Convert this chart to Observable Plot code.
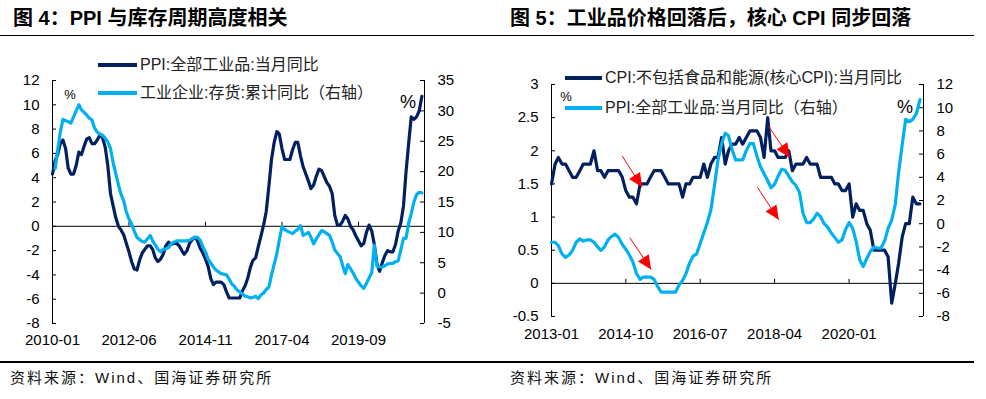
<!DOCTYPE html>
<html><head><meta charset="utf-8">
<script src="https://cdn.jsdelivr.net/npm/d3@7"></script>
<script src="https://cdn.jsdelivr.net/npm/@observablehq/plot@0.6"></script>
<style>
body{margin:0;background:#fff;}
#root{position:relative;width:986px;height:399px;overflow:hidden;font-family:"Liberation Sans","Noto Sans CJK SC",sans-serif;color:#000;}
.abs{position:absolute;white-space:nowrap;}
</style></head><body><div id="root"></div>
<script>
// ================= DATA =================
const titles = ["图 4：PPI 与库存周期高度相关", "图 5：工业品价格回落后，核心 CPI 同步回落"];
const sourceText = "资料来源：Wind、国海证券研究所";

// PPI:全部工业品:当月同比, monthly from 2010-01 to 2021-09 (%)
const ppiStart = "2010-01";
const ppiValues = [
  4.3, 5.4, 5.9, 6.8, 7.1, 6.4, 4.8, 4.3, 4.3, 5.0, 6.1, 5.9,
  6.6, 7.2, 7.3, 6.8, 6.8, 7.1, 7.5, 7.3, 6.5, 5.0, 2.7, 1.7,
  0.7, 0.0, -0.3, -0.7, -1.4, -2.1, -2.9, -3.5, -3.6, -2.8, -2.2, -1.9,
  -1.6, -1.6, -1.9, -2.6, -2.9, -2.7, -2.3, -1.6, -1.3, -1.5, -1.4, -1.4,
  -1.6, -2.0, -2.3, -2.0, -1.4, -1.1, -0.9, -1.2, -1.8, -2.2, -2.7, -3.3,
  -4.3, -4.8, -4.6, -4.6, -4.6, -4.8, -5.4, -5.9, -5.9, -5.9, -5.9, -5.9,
  -5.3, -4.9, -4.3, -3.4, -2.8, -2.6, -1.7, -0.8, 0.1, 1.2, 3.3, 5.5,
  6.9, 7.8, 7.6, 6.4, 5.5, 5.5, 5.5, 6.3, 6.9, 6.9, 5.8, 4.9,
  4.3, 3.7, 3.1, 3.4, 4.1, 4.7, 4.6, 4.1, 3.6, 3.3, 2.7, 0.9,
  0.1, 0.1, 0.4, 0.9, 0.6, 0.0, -0.3, -0.8, -1.2, -1.6, -1.4, -0.5,
  0.1, -0.4, -1.5, -3.1, -3.7, -3.0, -2.4, -2.0, -2.1, -2.1, -1.5, -0.4,
  0.3, 1.7, 4.4, 6.8, 9.0, 8.8, 9.0, 9.5, 10.7
];

// 工业企业:存货:累计同比 (right axis of 图4), months
const invMonths = [
  "2010-02","2010-03","2010-04","2010-05","2010-06","2010-07","2010-08","2010-09","2010-10","2010-11","2010-12",
  "2011-02","2011-03","2011-04","2011-05","2011-06","2011-07","2011-08","2011-09","2011-10","2011-11","2011-12",
  "2012-02","2012-03","2012-04","2012-05","2012-06","2012-07","2012-08","2012-09","2012-10","2012-11","2012-12",
  "2013-02","2013-03","2013-04","2013-05","2013-06","2013-07","2013-08","2013-09","2013-10","2013-11","2013-12",
  "2014-02","2014-03","2014-04","2014-05","2014-06","2014-07","2014-08","2014-09","2014-10","2014-11","2014-12",
  "2015-02","2015-03","2015-04","2015-05","2015-06","2015-07","2015-08","2015-09","2015-10","2015-11","2015-12",
  "2016-02","2016-03","2016-04","2016-05","2016-06","2016-07","2016-08","2016-09","2016-10","2016-11","2016-12",
  "2017-02","2017-03","2017-04","2017-05","2017-06","2017-07","2017-08","2017-09","2017-10","2017-11","2017-12",
  "2018-02","2018-03","2018-04","2018-05","2018-06","2018-07","2018-08","2018-09","2018-10","2018-11","2018-12",
  "2019-02","2019-03","2019-04","2019-05","2019-06","2019-07","2019-08","2019-09","2019-10","2019-11","2019-12",
  "2020-02","2020-03","2020-04","2020-05","2020-06","2020-07","2020-08","2020-09","2020-10","2020-11","2020-12",
  "2021-02","2021-03","2021-04","2021-05","2021-06","2021-07","2021-08","2021-09"
];
const invValues = [
  20.5, 23.5, 26.5, 28.6, 28.4, 28.2, 28.0, 29.0, 30.0, 31.0, 30.2,
  29.3, 28.8, 28.5, 27.2, 26.5, 26.2, 26.0, 25.5, 24.9, 23.8, 21.5,
  17.8, 16.3, 15.2, 13.4, 12.2, 11.4, 10.2, 9.2, 8.8, 8.5, 8.4,
  9.5, 8.6, 7.9, 7.2, 6.8, 7.2, 7.3, 7.5, 8.1, 8.4, 8.6,
  8.6, 8.6, 8.6, 8.7, 9.0, 9.2, 9.2, 8.7, 7.6, 6.8, 5.6,
  4.3, 3.8, 3.5, 3.2, 3.1, 3.0, 2.3, 1.5, 1.1, 0.5, 0.2,
  -0.5, -0.6, -0.8, -0.7, -0.5, -0.9, -0.3, 0.0, 0.6, 1.0, 3.0,
  6.5, 8.7, 10.9, 10.5, 10.2, 10.0, 9.8, 10.2, 10.5, 11.1, 9.5,
  10.0, 9.2, 8.1, 8.9, 9.6, 10.3, 10.1, 9.8, 9.5, 8.4, 7.1,
  6.0, 4.6, 3.2, 4.7, 4.0, 3.3, 2.4, 1.8, 1.2, 0.8, 1.6,
  3.4, 7.9, 4.4, 4.3, 4.3, 4.5, 4.8, 4.9, 4.9, 5.2, 5.3,
  9.0, 9.0, 11.5, 13.1, 15.0, 16.2, 16.6, 16.5
];

// CPI:不包括食品和能源(核心CPI):当月同比, monthly from 2013-01 to 2021-09 (%)
const coreStart = "2013-01";
const coreValues = [
  1.5, 1.8, 1.9, 1.8, 1.8, 1.7, 1.6, 1.6, 1.7, 1.8, 1.8, 1.8,
  2.0, 1.7, 1.7, 1.6, 1.7, 1.7, 1.7, 1.7, 1.6, 1.4, 1.3, 1.3,
  1.2, 1.5, 1.5, 1.5, 1.6, 1.7, 1.7, 1.7, 1.6, 1.5, 1.5, 1.5,
  1.5, 1.3, 1.5, 1.5, 1.6, 1.6, 1.6, 1.8, 1.6, 1.8, 1.9, 1.9,
  2.2, 1.8, 2.0, 2.1, 2.1, 2.2, 2.1, 2.2, 2.3, 2.3, 2.3, 2.2,
  1.9, 2.5, 2.0, 2.0, 1.9, 1.9, 1.9, 2.0, 1.7, 1.8, 1.8, 1.8,
  1.9, 1.8, 1.8, 1.8, 1.6, 1.6, 1.6, 1.6, 1.5, 1.5, 1.4, 1.4,
  1.5, 1.0, 1.2, 1.1, 1.1, 0.9, 0.8, 0.5, 0.5, 0.5, 0.5, 0.4,
  -0.3, 0.0, 0.3, 0.7, 0.9, 0.9, 1.3, 1.2, 1.2
];

// Red annotation arrows in 图5 (date, core-CPI axis units)
const arrowFrom = [["2014-09-01", 1.92], ["2018-02-07", 2.37], ["2014-11-04", 0.69], ["2017-11-04", 1.45]];
const arrowTo   = [["2015-02-18", 1.45], ["2018-08-10", 1.90], ["2015-05-07", 0.21], ["2018-05-07", 0.96]];

// Axes
const leftXTicks  = ["2010-01", "2012-06", "2014-11", "2017-04", "2019-09"];
const rightXTicks = ["2013-01", "2014-10", "2016-07", "2018-04", "2020-01"];
const leftXEnd = "2021-10", rightXEnd = "2021-10";
const fig4Y1Ticks = [-8, -6, -4, -2, 0, 2, 4, 6, 8, 10, 12];
const fig4Y2Ticks = [-5, 0, 5, 10, 15, 20, 25, 30, 35];
const fig5Y1Ticks = [-0.5, 0, 0.5, 1, 1.5, 2, 2.5, 3];
const fig5Y2Ticks = [-8, -6, -4, -2, 0, 2, 4, 6, 8, 10, 12];

const seriesNames4 = ["PPI:全部工业品:当月同比", "工业企业:存货:累计同比（右轴）"];
const seriesNames5 = ["CPI:不包括食品和能源(核心CPI):当月同比", "PPI:全部工业品:当月同比（右轴）"];

// ================= STYLE =================
const DARK = "#002060", LIGHT = "#00B0F0", RED = "#FF0000";
const FONT = '"Liberation Sans","Noto Sans CJK SC",sans-serif';

// ================= BUILD =================
const pm = d3.utcParse("%Y-%m"), pd = d3.utcParse("%Y-%m-%d");
const fmtM = d3.utcFormat("%Y-%m");
const monthly = (start, vals) => vals.map((v, i) => ({date: d3.utcMonth.offset(pm(start), i), value: v}));
const ppiData = monthly(ppiStart, ppiValues);
const invData = invMonths.map((m, i) => ({date: pm(m), value: invValues[i]}));
const coreData = monthly(coreStart, coreValues);
const arrows = arrowFrom.map((a, i) => ({x1: pd(a[0]), y1: a[1], x2: pd(arrowTo[i][0]), y2: arrowTo[i][1]}));

const root = document.getElementById("root");
function addDiv(style, text, cls = "abs") {
  const d = document.createElement("div");
  d.className = cls;
  Object.assign(d.style, style);
  if (text != null) d.textContent = text;
  root.appendChild(d);
  return d;
}

function panel(cfg) {
  const box = addDiv({left: cfg.left + "px", top: cfg.top + "px", width: cfg.width + "px", height: cfg.height + "px"});
  const m = cfg.margin;
  const common = {
    width: cfg.width, height: cfg.height,
    marginTop: m.top, marginRight: m.right, marginBottom: m.bottom, marginLeft: m.left,
    style: {background: "transparent", overflow: "visible", fontFamily: FONT, fontSize: "15px", color: "#000"}
  };
  const xd = cfg.xDomain;
  const a = Plot.plot({
    ...common,
    x: {type: "utc", domain: xd, ticks: cfg.xTicks, tickFormat: fmtM, tickSize: 0, tickPadding: cfg.tickPad, label: null},
    y: {domain: cfg.y1Domain, axis: null},
    marks: [
      Plot.ruleY([0], {stroke: "#000", strokeWidth: 1}),
      Plot.ruleX(cfg.xTicks.slice(1), {x: d => d, y1: () => 0, y2: () => 0, insetTop: -4, stroke: "#000"}),
      Plot.ruleX([xd[0]], {stroke: "#000", strokeWidth: 1}),
      Plot.ruleY(cfg.y1Ticks, {y: d => d, x1: () => xd[0], x2: () => xd[0], insetRight: -4, stroke: "#000"}),
      Plot.text(cfg.y1Ticks, {y: d => d, frameAnchor: "left", dx: -13, textAnchor: "end", text: d => String(d), fill: "#000"}),
      Plot.line(cfg.s1, {x: "date", y: "value", stroke: DARK, strokeWidth: 3.2, strokeLinejoin: "round"}),
      ...(cfg.arrows ? [Plot.link(cfg.arrows, {x1: "x1", y1: "y1", x2: "x2", y2: "y2", stroke: RED, strokeWidth: 1, markerEnd: "arrow"})] : [])
    ]
  });
  const b = Plot.plot({
    ...common,
    x: {type: "utc", domain: xd, axis: null},
    y: {domain: cfg.y2Domain, axis: null},
    marks: [
      Plot.ruleX([xd[1]], {stroke: "#000", strokeWidth: 1}),
      Plot.ruleY(cfg.y2Ticks, {y: d => d, x1: () => xd[1], x2: () => xd[1], insetLeft: -4, stroke: "#000"}),
      Plot.text(cfg.y2Ticks, {y: d => d, frameAnchor: "right", dx: 13, textAnchor: "start", text: d => String(d), fill: "#000"}),
      Plot.line(cfg.s2, {x: "date", y: "value", stroke: LIGHT, strokeWidth: 3.2, strokeLinejoin: "round"})
    ]
  });
  // filled red arrowheads
  a.querySelectorAll("marker").forEach(mk => {
    mk.setAttribute("viewBox", "-15 -7 16 14");
    mk.setAttribute("markerUnits", "userSpaceOnUse");
    mk.setAttribute("markerWidth", "16");
    mk.setAttribute("markerHeight", "14");
    mk.setAttribute("fill", RED);
    mk.setAttribute("stroke", "none");
    while (mk.firstChild) mk.removeChild(mk.firstChild);
    const p = document.createElementNS("http://www.w3.org/2000/svg", "path");
    p.setAttribute("d", "M-14,-6.5L0,0L-14,6.5Z");
    mk.appendChild(p);
  });
  a.style.position = "absolute"; a.style.left = "0px"; a.style.top = "0px";
  b.style.position = "absolute"; b.style.left = "0px"; b.style.top = "0px";
  box.appendChild(a); box.appendChild(b);

  // legend
  cfg.legend.forEach((lg, i) => {
    addDiv({left: lg.x + "px", top: (lg.y - 1.6) + "px", width: lg.w + "px", height: "3.2px", background: i ? LIGHT : DARK});
    addDiv({left: (lg.x + lg.w + 3) + "px", top: (lg.y - 11) + "px", lineHeight: "22px", fontSize: "16px", color: "#222"}, cfg.names[i]);
  });
  // % unit labels
  cfg.pct.forEach(p => addDiv({left: (p.x - 20) + "px", width: "40px", textAlign: "center", top: (p.y - p.s * 0.6) + "px", lineHeight: (p.s * 1.2) + "px", fontSize: p.s + "px"}, "%"));
}

// titles, rules, sources
titles.forEach((t, i) => addDiv({left: (i ? 510 : 13) + "px", top: "6px", fontSize: "20px", lineHeight: "24px", fontWeight: "bold", color: "#000"}, t));
addDiv({left: "0px", top: "34.5px", width: "974px", height: "1.5px", background: "#000"});
addDiv({left: "0px", top: "361px", width: "974px", height: "1.5px", background: "#000"});
[10, 510].forEach(x => addDiv({left: x + "px", top: "368px", fontSize: "15px", lineHeight: "20px", letterSpacing: "2px", color: "#111"}, sourceText));

panel({
  left: 0, top: 40, width: 490, height: 320,
  margin: {top: 40, right: 66, bottom: 37, left: 52},
  xDomain: [pm(ppiStart), pm(leftXEnd)], xTicks: leftXTicks.map(pm), tickPad: 11,
  y1Domain: [-8, 12], y2Domain: [-5, 35], y1Ticks: fig4Y1Ticks, y2Ticks: fig4Y2Ticks,
  s1: ppiData, s2: invData, names: seriesNames4,
  legend: [{x: 98, y: 65, w: 39}, {x: 98, y: 93, w: 39}],
  pct: [{x: 70, y: 95, s: 13}, {x: 408, y: 103, s: 18}]
});

panel({
  left: 490, top: 40, width: 496, height: 320,
  margin: {top: 44, right: 63, bottom: 44, left: 61},
  xDomain: [pm(coreStart), pm(rightXEnd)], xTicks: rightXTicks.map(pm), tickPad: 12,
  y1Domain: [-0.5, 3], y2Domain: [-8, 12], y1Ticks: fig5Y1Ticks, y2Ticks: fig5Y2Ticks,
  s1: coreData, s2: ppiData.filter(d => d.date >= pm(coreStart)), names: seriesNames5,
  arrows,
  legend: [{x: 565, y: 78, w: 37}, {x: 565, y: 108, w: 37}],
  pct: [{x: 566, y: 97, s: 13}, {x: 905, y: 108, s: 18}]
});
</script></body></html>
